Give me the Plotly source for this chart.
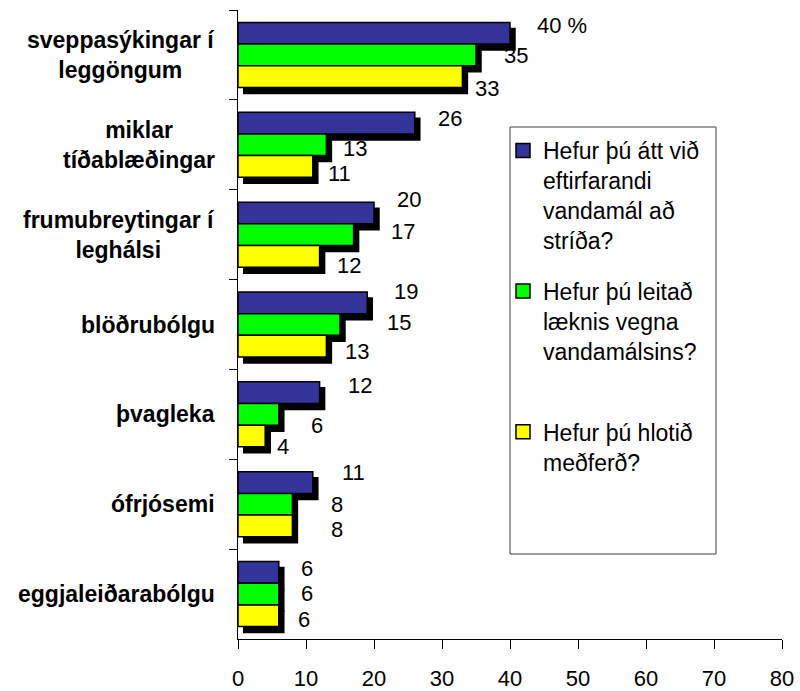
import plotly.graph_objects as go

# ---- data -------------------------------------------------------------
categories = [
    "sveppasýkingar í<br>leggöngum",
    "miklar<br>tíðablæðingar",
    "frumubreytingar í<br>leghálsi",
    "blöðrubólgu",
    "þvagleka",
    "ófrjósemi",
    "eggjaleiðarabólgu",
]
had_problem = [40, 26, 20, 19, 12, 11, 6]
sought_doctor = [35, 13, 17, 15, 6, 8, 6]
got_treatment = [33, 11, 12, 13, 4, 8, 6]

series_names = [
    "Hefur þú átt við<br>eftirfarandi<br>vandamál að<br>stríða?",
    "Hefur þú leitað<br>læknis vegna<br>vandamálsins?<br>\u00a0",
    "Hefur þú hlotið<br>meðferð?",
]
x_ticks = [0, 10, 20, 30, 40, 50, 60, 70, 80]

# ---- styling ----------------------------------------------------------
series_values = [had_problem, sought_doctor, got_treatment]
series_colors = ["#333399", "#00FF00", "#FFFF00"]
FONT = "Arial, 'Liberation Sans', sans-serif"

W, H = 800, 691
M_L, M_R, M_T, M_B = 238, 13, 10, 46
PLOT_W = W - M_L - M_R
PLOT_H = H - M_T - M_B
SHADOW_DX, SHADOW_DY = 5, 6
BARGAP = 0.277

# value-label placement tweaks in pixels: (gap after bar end, vertical shift down)
label_dx = [
    [20, 16, 16, 20, 21, 22, 15],
    [21, 10, 30, 40, 25, 32, 15],
    [6, 8, 10, 12, 5, 32, 12],
]
label_dy = [
    [-8, -5, -13, -11, -7, -10, -4],
    [1, 4, -3, -2, 11, 0, -1],
    [12, 7, 9, 5, 10, 4, 4],
]

fig = go.Figure()

# drop shadows (drawn first, on a slightly offset hidden subplot)
for vals in series_values:
    fig.add_trace(go.Bar(
        x=vals, y=categories, orientation="h",
        marker=dict(color="black", line=dict(color="black", width=1.5)),
        showlegend=False, hoverinfo="skip",
        xaxis="x", yaxis="y",
    ))

# main bars
for name, vals, col in zip(series_names, series_values, series_colors):
    fig.add_trace(go.Bar(
        x=vals, y=categories, orientation="h", name=name,
        marker=dict(color=col, line=dict(color="black", width=1.5)),
        showlegend=False,
        xaxis="x2", yaxis="y2",
    ))

# legend entries with square swatches
for i, (name, col) in enumerate(zip(series_names, series_colors)):
    fig.add_trace(go.Scatter(
        x=[None], y=[None], mode="markers", name=name,
        marker=dict(symbol="square", size=14, color=col,
                    line=dict(color="black", width=1.5)),
        legendgroup=f"g{i}", showlegend=True,
        xaxis="x2", yaxis="y2",
    ))

# value labels
band_px = (PLOT_H - SHADOW_DY) / len(categories)
bar_px = band_px * (1 - BARGAP) / 3
annotations = []
for s, vals in enumerate(series_values):
    offset = (s - 1) * bar_px
    for c, v in enumerate(vals):
        txt = f"{v} %" if (s == 0 and c == 0) else f"{v}"
        annotations.append(dict(
            x=v, y=categories[c], xref="x2", yref="y2",
            text=txt, showarrow=False,
            xanchor="left", yanchor="middle",
            xshift=label_dx[s][c] + SHADOW_DX,
            yshift=-(offset + label_dy[s][c]),
            font=dict(family=FONT, size=22, color="black"),
        ))

# category labels (centered multi-line blocks)
for cat in categories:
    annotations.append(dict(
        x=0, y=cat, xref="paper", yref="y2",
        text=f"<b>{cat}</b>", showarrow=False,
        xanchor="right", yanchor="middle", align="center",
        xshift=-21,
        font=dict(family=FONT, size=23, color="black"),
    ))

main_x_dom = [0, (PLOT_W - SHADOW_DX) / PLOT_W]
shadow_x_dom = [SHADOW_DX / PLOT_W, 1]
main_y_dom = [SHADOW_DY / PLOT_H, 1]
shadow_y_dom = [0, 1 - SHADOW_DY / PLOT_H]
y_range = [len(categories) - 0.5, -0.5]


def px_to_paper(px, py):
    return (px - M_L) / PLOT_W, 1 - (py - M_T) / PLOT_H


bx0, by0 = px_to_paper(510, 127)
bx1, by1 = px_to_paper(716, 554)
lx, ly = px_to_paper(503, 129)

fig.update_layout(
    width=W, height=H,
    margin=dict(l=M_L, r=M_R, t=M_T, b=M_B, autoexpand=False),
    paper_bgcolor="white", plot_bgcolor="rgba(0,0,0,0)",
    barmode="group", bargap=BARGAP, bargroupgap=0,
    font=dict(family=FONT, color="black"),
    xaxis=dict(domain=shadow_x_dom, range=[0, 80], visible=False, anchor="y",
               automargin=False),
    yaxis=dict(domain=shadow_y_dom, range=y_range, visible=False, anchor="x",
               type="category", automargin=False),
    xaxis2=dict(
        domain=main_x_dom, range=[0, 80], anchor="y2",
        tickmode="array", tickvals=x_ticks,
        showline=True, linecolor="black", linewidth=1,
        ticks="outside", ticklen=9, tickcolor="black", tickwidth=1,
        showgrid=False, zeroline=False, automargin=False,
        tickfont=dict(family=FONT, size=22, color="black"),
        ticklabelstandoff=11,
    ),
    yaxis2=dict(
        domain=main_y_dom, range=y_range, anchor="x2", type="category",
        showline=True, linecolor="black", linewidth=1,
        ticks="outside", ticklen=8, tickcolor="black", tickwidth=1,
        tickson="boundaries", showticklabels=False,
        showgrid=False, zeroline=False, automargin=False,
    ),
    legend=dict(
        x=lx, y=ly, xanchor="left", yanchor="top",
        bgcolor="rgba(0,0,0,0)", borderwidth=0,
        font=dict(family=FONT, size=23, color="black"),
        traceorder="grouped", tracegroupgap=18, valign="top",
        itemclick=False, itemdoubleclick=False,
    ),
    shapes=[dict(
        type="rect", xref="paper", yref="paper",
        x0=bx0, y0=by0, x1=bx1, y1=by1,
        line=dict(color="#404040", width=1), fillcolor="white", layer="below",
    )],
    annotations=annotations,
    showlegend=True,
)

fig.write_html("out.html")
